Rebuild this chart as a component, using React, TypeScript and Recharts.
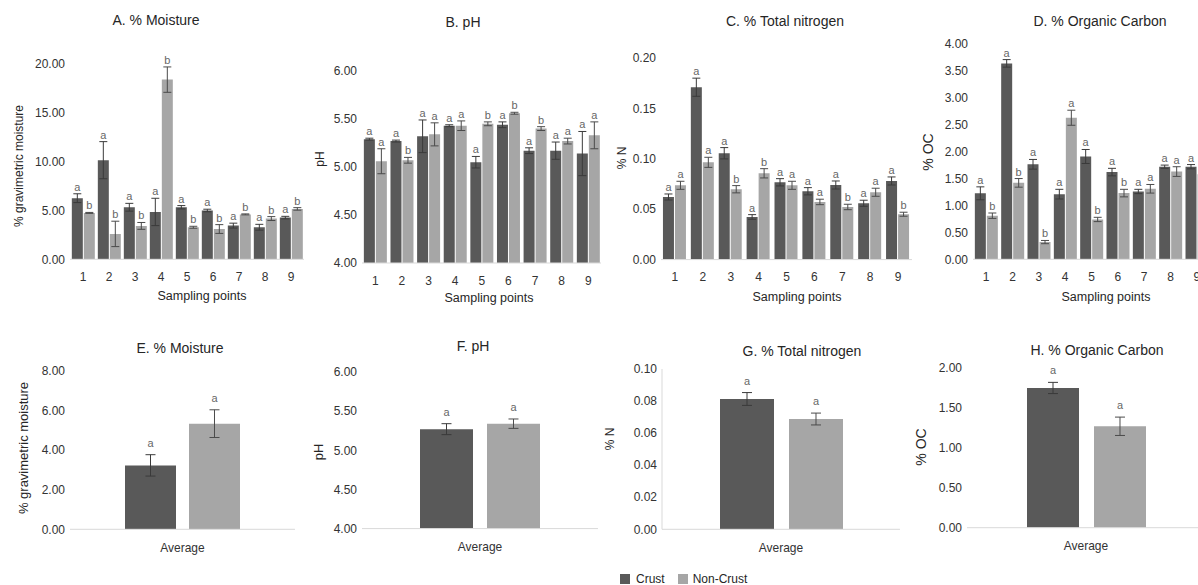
import React from 'react';
import { BarChart, Bar, XAxis, YAxis, ErrorBar, LabelList } from 'recharts';

const FONT = '"Liberation Sans", Arial, Helvetica, sans-serif';
const DARK = '#595959';
const LIGHT = '#a6a6a6';
const TEXT = '#333333';

// ---- data ----
const points = ['1', '2', '3', '4', '5', '6', '7', '8', '9'];
const average = ['Average'];

const moistureCrust = [6.26, 10.15, 5.33, 4.85, 5.33, 5.0, 3.45, 3.28, 4.27];
const moistureCrustErr = [0.45, 1.9, 0.4, 1.4, 0.17, 0.13, 0.25, 0.3, 0.13];
const moistureNon = [4.75, 2.6, 3.42, 18.4, 3.28, 3.1, 4.6, 4.17, 5.16];
const moistureNonErr = [0.05, 1.3, 0.35, 1.3, 0.1, 0.45, 0.05, 0.2, 0.13];
const moistureCrustLet = ['a', 'a', 'a', 'a', 'a', 'a', 'a', 'a', 'a'];
const moistureNonLet = ['b', 'b', 'b', 'b', 'b', 'b', 'b', 'b', 'b'];

const phCrust = [5.29, 5.27, 5.32, 5.43, 5.05, 5.44, 5.17, 5.17, 5.14];
const phCrustErr = [0.01, 0.01, 0.17, 0.01, 0.06, 0.03, 0.03, 0.09, 0.23];
const phNon = [5.06, 5.07, 5.34, 5.43, 5.45, 5.56, 5.4, 5.27, 5.33];
const phNonErr = [0.13, 0.03, 0.12, 0.05, 0.02, 0.01, 0.02, 0.03, 0.14];
const phCrustLet = ['a', 'a', 'a', 'a', 'a', 'a', 'a', 'a', 'a'];
const phNonLet = ['a', 'b', 'a', 'a', 'b', 'b', 'b', 'a', 'a'];

const nCrust = [0.0621, 0.171, 0.1055, 0.0423, 0.0767, 0.0678, 0.074, 0.0559, 0.078];
const nCrustErr = [0.003, 0.009, 0.0056, 0.0023, 0.0036, 0.0036, 0.004, 0.003, 0.004];
const nNon = [0.0737, 0.0965, 0.0698, 0.0856, 0.0737, 0.0572, 0.0522, 0.0668, 0.045];
const nNonErr = [0.004, 0.005, 0.0036, 0.0046, 0.004, 0.0027, 0.0027, 0.004, 0.002];
const nCrustLet = ['a', 'a', 'a', 'a', 'a', 'a', 'a', 'a', 'a'];
const nNonLet = ['a', 'a', 'b', 'b', 'a', 'a', 'b', 'a', 'b'];

const ocCrust = [1.226, 3.64, 1.765, 1.21, 1.91, 1.62, 1.26, 1.72, 1.72];
const ocCrustErr = [0.12, 0.07, 0.09, 0.09, 0.13, 0.07, 0.04, 0.03, 0.04];
const ocNon = [0.81, 1.42, 0.32, 2.63, 0.74, 1.23, 1.31, 1.63, 1.58];
const ocNonErr = [0.05, 0.08, 0.03, 0.14, 0.04, 0.07, 0.08, 0.09, 0.06];
const ocCrustLet = ['a', 'a', 'a', 'a', 'a', 'a', 'a', 'a', 'a'];
const ocNonLet = ['b', 'b', 'b', 'a', 'b', 'b', 'a', 'a', 'a'];

const avgMoistureCrust = [3.23];
const avgMoistureCrustErr = [0.54];
const avgMoistureNon = [5.34];
const avgMoistureNonErr = [0.7];

const avgPhCrust = [5.27];
const avgPhCrustErr = [0.07];
const avgPhNon = [5.34];
const avgPhNonErr = [0.06];

const avgNCrust = [0.0813];
const avgNCrustErr = [0.004];
const avgNNon = [0.0688];
const avgNNonErr = [0.0037];

const avgOcCrust = [1.75];
const avgOcCrustErr = [0.07];
const avgOcNon = [1.27];
const avgOcNonErr = [0.115];

const avgLet = ['a'];

const ticksMoisture = [0, 5, 10, 15, 20];
const ticksPh = [4, 4.5, 5, 5.5, 6];
const ticksN = [0, 0.05, 0.1, 0.15, 0.2];
const ticksOc = [0, 0.5, 1, 1.5, 2, 2.5, 3, 3.5, 4];
const ticksAvgMoisture = [0, 2, 4, 6, 8];
const ticksAvgN = [0, 0.02, 0.04, 0.06, 0.08, 0.1];
const ticksAvgOc = [0, 0.5, 1, 1.5, 2];

// ---- components ----
type PanelProps = {
  x0: number;
  x1: number;
  yTop: number;
  yBot: number;
  ticks: number[];
  decimals: number;
  cats: string[];
  crust: number[];
  crustErr: number[];
  non: number[];
  nonErr: number[];
  crustLet: string[];
  nonLet: string[];
  barSize?: number;
  barGap: number;
  barCategoryGap?: string;
  labelGap: number;
  tickMargin: number;
  yAxisLine?: boolean;
  capWidth: number;
};

const makeLabel = (
  rows: any[],
  valKey: string,
  errKey: string,
  letKey: string,
  base: number,
  gap: number
) => (props: any) => {
  const idx = props.index;
  const vb = props.viewBox || props;
  const row = rows[idx];
  if (!row || !vb) return null;
  const { x, y, width, height } = vb;
  const v = row[valKey] - base;
  const ppu = v > 0 ? height / v : 0;
  const errPx = row[errKey] * ppu;
  return (
    <text
      x={x + width / 2}
      y={y - errPx - gap}
      textAnchor="middle"
      fontSize={11}
      fontFamily={FONT}
      fill="#666666"
    >
      {row[letKey]}
    </text>
  );
};

const Panel = (p: PanelProps) => {
  const yw = 60;
  const mt = 30;
  const xh = 40;
  const rows = p.cats.map((c, i) => ({
    cat: c,
    crust: p.crust[i],
    crustErr: p.crustErr[i],
    non: p.non[i],
    nonErr: p.nonErr[i],
    crustLet: p.crustLet[i],
    nonLet: p.nonLet[i],
  }));
  const base = p.ticks[0];
  const width = p.x1 - p.x0 + yw;
  const height = mt + (p.yBot - p.yTop) + xh;
  return (
    <div style={{ position: 'absolute', left: p.x0 - yw, top: p.yTop - mt, width, height }}>
      <BarChart
        width={width}
        height={height}
        data={rows}
        margin={{ top: mt, right: 0, bottom: 0, left: 0 }}
        barGap={p.barGap}
        barCategoryGap={p.barCategoryGap ?? '10%'}
        style={{ overflow: 'visible' }}
      >
        <XAxis
          dataKey="cat"
          height={xh}
          tickLine={false}
          axisLine={{ stroke: '#d9d9d9' }}
          tickSize={0}
          tickMargin={p.tickMargin}
          interval={0}
          tick={{ fontSize: 12, fill: TEXT, fontFamily: FONT }}
        />
        <YAxis
          width={yw}
          domain={[p.ticks[0], p.ticks[p.ticks.length - 1]]}
          ticks={p.ticks}
          allowDataOverflow
          interval={0}
          tickLine={false}
          axisLine={p.yAxisLine ? { stroke: '#d9d9d9' } : false}
          tickSize={0}
          tickMargin={5}
          tickFormatter={(v: number) => v.toFixed(p.decimals)}
          tick={{ fontSize: 12, fill: TEXT, fontFamily: FONT }}
        />
        <Bar dataKey="crust" fill={DARK} isAnimationActive={false} barSize={p.barSize}>
          <ErrorBar dataKey="crustErr" width={p.capWidth} stroke="#3a3a3a" strokeWidth={1} />
          <LabelList dataKey="crustLet" content={makeLabel(rows, 'crust', 'crustErr', 'crustLet', base, p.labelGap)} />
        </Bar>
        <Bar dataKey="non" fill={LIGHT} isAnimationActive={false} barSize={p.barSize}>
          <ErrorBar dataKey="nonErr" width={p.capWidth} stroke="#4a4a4a" strokeWidth={1} />
          <LabelList dataKey="nonLet" content={makeLabel(rows, 'non', 'nonErr', 'nonLet', base, p.labelGap)} />
        </Bar>
      </BarChart>
    </div>
  );
};

const Txt = ({ x, y, size = 14, rotate = false, children }: any) => (
  <div
    style={{
      position: 'absolute',
      left: x,
      top: y,
      transform: `translate(-50%, -50%)${rotate ? ' rotate(-90deg)' : ''}`,
      fontSize: size,
      fontFamily: FONT,
      color: '#262626',
      whiteSpace: 'nowrap',
      lineHeight: 1,
    }}
  >
    {children}
  </div>
);

export default function App() {
  const top = { cats: points, barGap: 1, barCategoryGap: '7%', labelGap: 3, tickMargin: 13, capWidth: 4 };
  const bot = { cats: average, labelGap: 8, tickMargin: 14, capWidth: 5 };
  return (
    <div
      style={{
        position: 'absolute',
        left: 0,
        top: 0,
        width: 1198,
        height: 585,
        overflow: 'hidden',
        background: '#ffffff',
      }}
    >
      <Panel {...top} x0={70} x1={304} yTop={64} yBot={259.3} ticks={ticksMoisture} decimals={2}
        crust={moistureCrust} crustErr={moistureCrustErr} non={moistureNon} nonErr={moistureNonErr}
        crustLet={moistureCrustLet} nonLet={moistureNonLet} />
      <Panel {...top} x0={361.7} x1={601.3} yTop={70.7} yBot={262.7} ticks={ticksPh} decimals={2}
        crust={phCrust} crustErr={phCrustErr} non={phNon} nonErr={phNonErr}
        crustLet={phCrustLet} nonLet={phNonLet} />
      <Panel {...top} x0={661} x1={912} yTop={57.7} yBot={259.3} ticks={ticksN} decimals={2}
        crust={nCrust} crustErr={nCrustErr} non={nNon} nonErr={nNonErr}
        crustLet={nCrustLet} nonLet={nNonLet} />
      <Panel {...top} x0={973} x1={1210} yTop={44} yBot={259.3} ticks={ticksOc} decimals={2}
        crust={ocCrust} crustErr={ocCrustErr} non={ocNon} nonErr={ocNonErr}
        crustLet={ocCrustLet} nonLet={ocNonLet} />

      <Panel {...bot} x0={70} x1={295} yTop={371} yBot={529.3} ticks={ticksAvgMoisture} decimals={2}
        crust={avgMoistureCrust} crustErr={avgMoistureCrustErr} non={avgMoistureNon} nonErr={avgMoistureNonErr}
        crustLet={avgLet} nonLet={avgLet} barSize={51} barGap={13} />
      <Panel {...bot} x0={362} x1={598} yTop={371.7} yBot={528.3} ticks={ticksPh} decimals={2}
        crust={avgPhCrust} crustErr={avgPhCrustErr} non={avgPhNon} nonErr={avgPhNonErr}
        crustLet={avgLet} nonLet={avgLet} barSize={53} barGap={14} />
      <Panel {...bot} x0={662} x1={900} yTop={369} yBot={529.3} ticks={ticksAvgN} decimals={2}
        crust={avgNCrust} crustErr={avgNCrustErr} non={avgNNon} nonErr={avgNNonErr}
        crustLet={avgLet} nonLet={avgLet} barSize={54} barGap={15} yAxisLine />
      <Panel {...bot} x0={967} x1={1205} yTop={368} yBot={527.7} ticks={ticksAvgOc} decimals={2}
        crust={avgOcCrust} crustErr={avgOcCrustErr} non={avgOcNon} nonErr={avgOcNonErr}
        crustLet={avgLet} nonLet={avgLet} barSize={52} barGap={15} />

      {/* titles */}
      <Txt x={156} y={20}>A. % Moisture</Txt>
      <Txt x={463} y={22}>B. pH</Txt>
      <Txt x={785} y={20.5}>C. % Total nitrogen</Txt>
      <Txt x={1100} y={20.5}>D. % Organic Carbon</Txt>
      <Txt x={180} y={348}>E. % Moisture</Txt>
      <Txt x={473} y={346}>F. pH</Txt>
      <Txt x={802} y={351}>G. % Total nitrogen</Txt>
      <Txt x={1097} y={350}>H. % Organic Carbon</Txt>

      {/* axis titles */}
      <Txt x={202} y={296} size={12.5}>Sampling points</Txt>
      <Txt x={489} y={298} size={12.5}>Sampling points</Txt>
      <Txt x={797} y={297} size={12.5}>Sampling points</Txt>
      <Txt x={1106} y={297} size={12.5}>Sampling points</Txt>

      <Txt x={19} y={166} size={12} rotate>% gravimetric moisture</Txt>
      <Txt x={320} y={159} size={12} rotate>pH</Txt>
      <Txt x={622} y={158} size={12} rotate>% N</Txt>
      <Txt x={928} y={152} size={14} rotate>% OC</Txt>
      <Txt x={23} y={448} size={13} rotate>% gravimetric moisture</Txt>
      <Txt x={318} y={452} size={13} rotate>pH</Txt>
      <Txt x={610} y={439} size={12} rotate>% N</Txt>
      <Txt x={921} y={447} size={14} rotate>% OC</Txt>

      {/* legend */}
      <div
        style={{
          position: 'absolute',
          left: 620,
          top: 573,
          display: 'flex',
          alignItems: 'center',
          fontFamily: FONT,
          fontSize: 12,
          color: '#262626',
          lineHeight: 1,
          whiteSpace: 'nowrap',
        }}
      >
        <span style={{ display: 'inline-block', width: 10, height: 10, background: DARK, marginRight: 6 }} />
        <span style={{ marginRight: 13 }}>Crust</span>
        <span style={{ display: 'inline-block', width: 10, height: 10, background: LIGHT, marginRight: 5 }} />
        <span>Non-Crust</span>
      </div>
    </div>
  );
}
